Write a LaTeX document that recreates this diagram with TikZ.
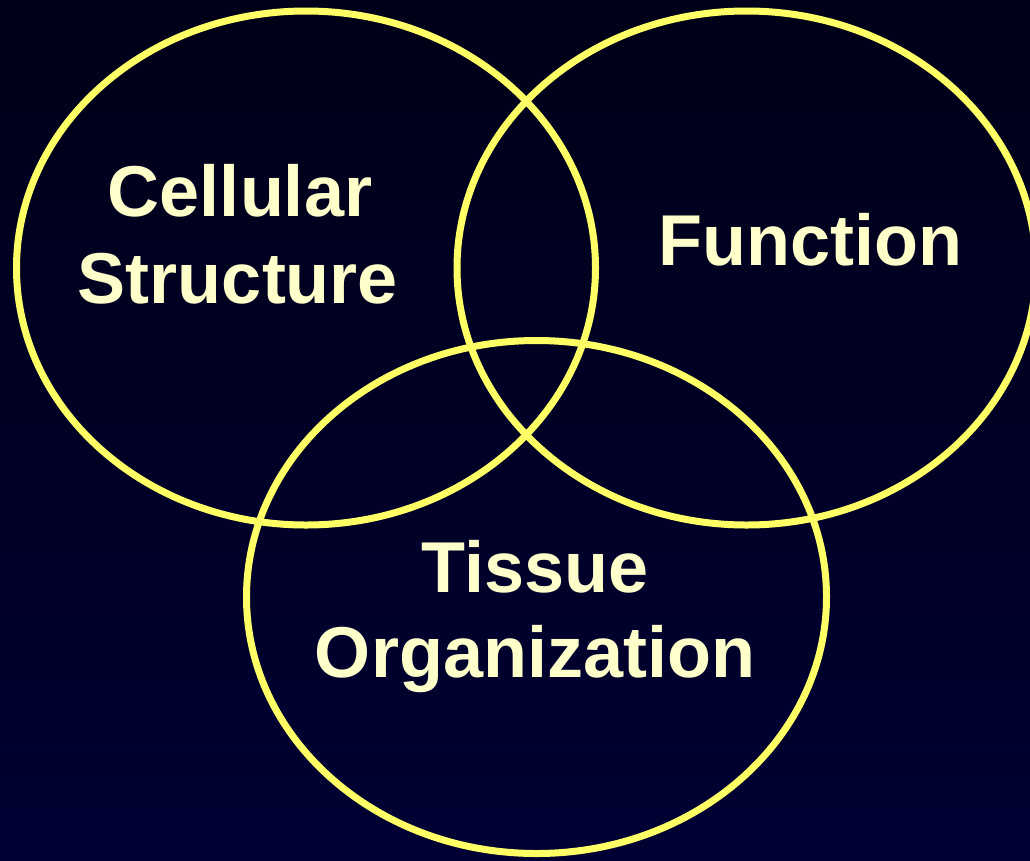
\documentclass[tikz,border=0pt]{standalone}
\usepackage{fontspec}
\setmainfont{Liberation Sans}
\definecolor{bgtop}{HTML}{000018}
\definecolor{bgbot}{HTML}{000033}
\definecolor{ring}{HTML}{FFFF66}
\definecolor{label}{HTML}{FFFFCC}
\begin{document}
\begin{tikzpicture}[x=1pt,y=-1pt,
  ringstyle/.style={draw=ring,line width=7pt},
  labelstyle/.style={text=label,font=\bfseries\fontsize{72}{86}\selectfont,anchor=base,inner sep=0pt}]
\useasboundingbox (0,0) rectangle (1030,860);
\clip (0,0) rectangle (1030,860);
\shade[top color=bgtop,bottom color=bgbot] (0,0) rectangle (1030,860);
\draw[ringstyle] (306,268) ellipse [x radius=289.5, y radius=257];
\draw[ringstyle] (746.5,268) ellipse [x radius=289.5, y radius=257];
\draw[ringstyle] (536.5,597) ellipse [x radius=290, y radius=256.5];
\node[labelstyle] (cellA) at (240,216) {Cellular};
\node[labelstyle] (cellB) at (238,303) {Structure};
\node[labelstyle] (func) at (810,265) {Function};
\node[labelstyle] (tisA) at (535,592) {Tissue};
\node[labelstyle] (tisB) at (535,677) {Organization};
\end{tikzpicture}
\end{document}
